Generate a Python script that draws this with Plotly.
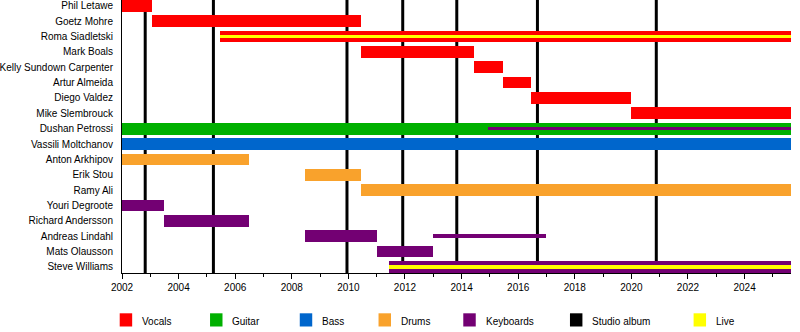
import plotly.graph_objects as go

# Band line-up, top to bottom
members = [
    "Phil Letawe", "Goetz Mohre", "Roma Siadletski", "Mark Boals",
    "Kelly Sundown Carpenter", "Artur Almeida", "Diego Valdez",
    "Mike Slembrouck", "Dushan Petrossi", "Vassili Moltchanov",
    "Anton Arkhipov", "Erik Stou", "Ramy Ali", "Youri Degroote",
    "Richard Andersson", "Andreas Lindahl", "Mats Olausson", "Steve Williams",
]

TIMELINE_START = 2002.0
TIMELINE_END = 2025.64

# Membership periods (decimal years)
vocals_members = ["Phil Letawe", "Goetz Mohre", "Roma Siadletski", "Mark Boals",
                  "Kelly Sundown Carpenter", "Artur Almeida", "Diego Valdez", "Mike Slembrouck"]
vocals_start = [2002.0, 2003.05, 2005.45, 2010.45, 2014.45, 2015.45, 2016.45, 2020.0]
vocals_end = [2003.05, 2010.45, TIMELINE_END, 2014.45, 2015.45, 2016.45, 2020.0, TIMELINE_END]

guitar_members = ["Dushan Petrossi"]
guitar_start = [2002.0]
guitar_end = [TIMELINE_END]

bass_members = ["Vassili Moltchanov"]
bass_start = [2002.0]
bass_end = [TIMELINE_END]

drums_members = ["Anton Arkhipov", "Erik Stou", "Ramy Ali"]
drums_start = [2002.0, 2008.45, 2010.45]
drums_end = [2006.5, 2010.45, TIMELINE_END]

keys_members = ["Youri Degroote", "Richard Andersson", "Andreas Lindahl",
                "Mats Olausson", "Steve Williams"]
keys_start = [2002.0, 2003.5, 2008.45, 2011.0, 2011.45]
keys_end = [2003.5, 2006.5, 2011.0, 2013.0, TIMELINE_END]

# Secondary keyboard duties (thin bars)
keys2_members = ["Dushan Petrossi", "Andreas Lindahl"]
keys2_start = [2014.95, 2013.0]
keys2_end = [TIMELINE_END, 2017.0]

# Live-only members (thin stripe)
live_members = ["Roma Siadletski", "Steve Williams"]
live_start = [2005.45, 2011.45]
live_end = [TIMELINE_END, TIMELINE_END]

# Studio album release dates
albums = [2002.82, 2005.23, 2009.95, 2011.92, 2013.83, 2016.68, 2020.88]

legend_labels = ["Vocals", "Guitar", "Bass", "Drums", "Keyboards", "Studio album", "Live"]

COLORS = {
    "Vocals": "#ff0000",
    "Guitar": "#00b000",
    "Bass": "#0066cc",
    "Drums": "#f9a22c",
    "Keyboards": "#730073",
    "Studio album": "#000000",
    "Live": "#ffff00",
}

FONT = "Liberation Sans, Arial, sans-serif"
row = {name: i for i, name in enumerate(members)}

W, H = 800, 332
ML, MR, MT, MB = 120, 9, 0, 59
PLOT_W, PLOT_H = W - ML - MR, H - MT - MB

THICK = 0.765
THIN = 0.23

fig = go.Figure()


def add_bars(names, starts, ends, color, width):
    fig.add_trace(go.Bar(
        y=[row[n] for n in names],
        x=[e - s for s, e in zip(starts, ends)],
        base=starts,
        orientation="h",
        width=width,
        marker=dict(color=color, line=dict(width=0)),
        hoverinfo="skip",
        showlegend=False,
    ))


add_bars(vocals_members, vocals_start, vocals_end, COLORS["Vocals"], THICK)
add_bars(guitar_members, guitar_start, guitar_end, COLORS["Guitar"], THICK)
add_bars(bass_members, bass_start, bass_end, COLORS["Bass"], THICK)
add_bars(drums_members, drums_start, drums_end, COLORS["Drums"], THICK)
add_bars(keys_members, keys_start, keys_end, COLORS["Keyboards"], THICK)
add_bars(keys2_members, keys2_start, keys2_end, COLORS["Keyboards"], THIN)
add_bars(live_members, live_start, live_end, COLORS["Live"], THIN)

# Album release markers
for yr in albums:
    fig.add_shape(type="line", xref="x", yref="paper", x0=yr, x1=yr, y0=0, y1=1,
                  line=dict(color="black", width=3), layer="below")


# Legend drawn beneath the axis
def px_to_paper(px, py):
    return (px - ML) / PLOT_W, (H - MB - py) / PLOT_H


swatch_left = [117.7, 208.3, 298.3, 377.3, 462.3, 569.3, 693.3]
SW_W, SW_TOP, SW_BOT = 12.5, 313.3, 326.5
for label, sx in zip(legend_labels, swatch_left):
    x0, y0 = px_to_paper(sx, SW_BOT)
    x1, y1 = px_to_paper(sx + SW_W, SW_TOP)
    fig.add_shape(type="rect", xref="paper", yref="paper", x0=x0, x1=x1, y0=y0, y1=y1,
                  fillcolor=COLORS[label], line=dict(width=0))
    tx, ty = px_to_paper(sx + 20.5, 321.5)
    fig.add_annotation(xref="paper", yref="paper", x=tx, y=ty, text=label,
                       showarrow=False, xanchor="left", yanchor="middle",
                       font=dict(family=FONT, size=10, color="black"))

ROW_PX = 15.36
ROW0_PX = 5.8
y_top = -ROW0_PX / ROW_PX
y_bot = y_top + PLOT_H / ROW_PX

fig.update_layout(
    width=W, height=H,
    margin=dict(l=ML, r=MR, t=MT, b=MB),
    paper_bgcolor="white", plot_bgcolor="white",
    barmode="overlay",
    bargap=0,
    showlegend=False,
    font=dict(family=FONT, size=10, color="black"),
    xaxis=dict(
        range=[TIMELINE_START, TIMELINE_END],
        tickmode="array",
        tickvals=list(range(2002, 2026, 2)),
        ticktext=[str(y) for y in range(2002, 2026, 2)],
        ticks="outside", ticklen=5, tickwidth=1, tickcolor="black",
        minor=dict(tickvals=list(range(2003, 2026, 2)), ticks="outside",
                   ticklen=3, tickwidth=1, tickcolor="black", showgrid=False),
        showline=True, linecolor="black", linewidth=1,
        showgrid=False, zeroline=False,
        tickfont=dict(family=FONT, size=10, color="black"),
        fixedrange=True,
    ),
    yaxis=dict(
        range=[y_bot, y_top],
        tickmode="array",
        tickvals=list(range(len(members))),
        ticktext=members,
        ticks="", ticklabelstandoff=6,
        showline=True, linecolor="black", linewidth=1,
        showgrid=False, zeroline=False,
        tickfont=dict(family=FONT, size=10, color="black"),
        fixedrange=True,
    ),
)

fig.write_html("out.html", config={"displayModeBar": False})
